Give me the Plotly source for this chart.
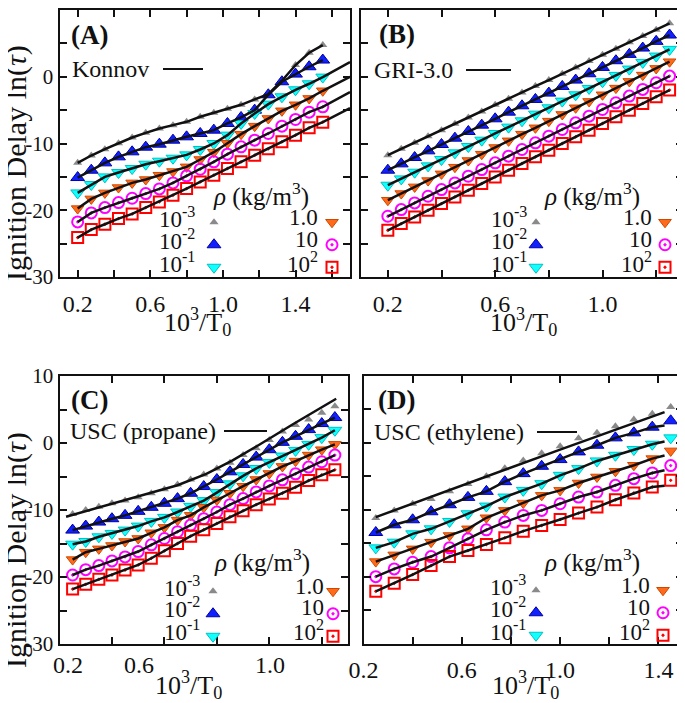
import plotly.graph_objects as go

# the page puts the figure 8 px in from the top-left corner, so the figure is
# drawn 8 px smaller and every reference position is shifted by that amount
OFF = 8
W, H = 685 - OFF, 703 - OFF
SERIF = "Liberation Serif"
INK = "#111111"

RHO_LABELS = ["10<sup>-3</sup>", "10<sup>-2</sup>", "10<sup>-1</sup>", "1.0", "10", "10<sup>2</sup>"]

# (A) Konnov
A_X = [0.2, 0.275, 0.35, 0.425, 0.5, 0.575, 0.65, 0.725, 0.8, 0.875,
       0.95, 1.025, 1.1, 1.175, 1.25, 1.325, 1.4, 1.475, 1.55]
A_PTS = [
    [-12.9, -11.8, -10.85, -9.95, -9.1, -8.4, -7.75, -7.25, -6.75, -6.0, -5.4, -4.8, -4.2, -3.4, -2.6, -0.6, 1.75, 3.6, 4.75],
    [-15.1, -14.0, -12.9, -12.0, -11.25, -10.55, -10.1, -9.5, -9.0, -8.5, -8.0, -7.0, -6.1, -5.0, -2.7, -0.75, 0.4, 1.5, 2.5],
    [-17.4, -16.15, -15.0, -14.35, -13.75, -13.1, -12.65, -12.2, -11.7, -10.9, -10.0, -8.75, -7.0, -5.5, -4.1, -3.0, -1.95, -1.05, -0.05],
    [-19.75, -18.3, -17.4, -16.6, -15.9, -15.4, -14.75, -14.2, -13.5, -12.4, -11.3, -9.95, -8.6, -7.4, -6.25, -5.1, -4.2, -3.25, -2.1],
    [-21.75, -20.4, -19.6, -18.85, -18.2, -17.5, -16.8, -15.9, -14.85, -13.85, -12.75, -11.6, -10.5, -9.5, -8.5, -7.4, -6.4, -5.3, -4.5],
    [-24.1, -22.9, -22.1, -21.25, -20.55, -19.6, -18.75, -17.75, -16.75, -15.75, -14.75, -13.75, -12.75, -11.75, -10.8, -9.75, -8.75, -7.65, -6.8],
]
A_TAIL_X = 1.7
A_TAIL = [None, None, 2.2, 0.0, -2.3, -4.7]

# (B) GRI-3.0
B_X = [0.2, 0.25, 0.3, 0.35, 0.4, 0.45, 0.5, 0.55, 0.6, 0.65, 0.7,
       0.75, 0.8, 0.85, 0.9, 0.95, 1.0, 1.05, 1.1, 1.15, 1.2, 1.25]
B_PTS = [
    [-11.75, -10.8, -9.9, -8.9, -8.0, -7.05, -6.1, -5.2, -4.2, -3.3, -2.35, -1.4, -0.5, 0.45, 1.4, 2.35, 3.3, 4.2, 5.15, 6.1, 7.05, 8.0],
    [-14.0, -13.05, -12.1, -11.1, -10.15, -9.2, -8.2, -7.25, -6.3, -5.3, -4.35, -3.4, -2.45, -1.45, -0.5, 0.45, 1.4, 2.4, 3.35, 4.3, 5.3, 6.25],
    [-16.25, -15.3, -14.3, -13.35, -12.4, -11.4, -10.45, -9.5, -8.5, -7.55, -6.6, -5.6, -4.65, -3.65, -2.7, -1.75, -0.75, 0.2, 1.15, 2.15, 3.1, 4.1],
    [-18.5, -17.5, -16.5, -15.55, -14.55, -13.55, -12.55, -11.6, -10.6, -9.6, -8.6, -7.65, -6.65, -5.65, -4.65, -3.7, -2.7, -1.7, -0.7, 0.25, 1.25, 2.25],
    [-20.9, -19.9, -18.9, -17.9, -16.9, -15.9, -14.9, -13.9, -12.9, -11.9, -10.9, -9.9, -8.9, -7.9, -6.9, -5.9, -4.9, -3.9, -2.9, -1.9, -0.9, 0.1],
    [-23.0, -22.0, -21.0, -20.0, -19.0, -18.0, -17.0, -16.0, -15.0, -14.0, -13.0, -12.0, -11.0, -10.0, -9.0, -8.0, -7.0, -6.0, -5.0, -4.0, -3.0, -2.0],
]

# (C) USC (propane)
C_X = [0.25, 0.3, 0.35, 0.4, 0.45, 0.5, 0.55, 0.6, 0.65, 0.7, 0.75,
       0.8, 0.85, 0.9, 0.95, 1.0, 1.05, 1.1, 1.15, 1.2, 1.25]
C_PTS = [
    [-10.6, -10.0, -9.5, -9.0, -8.6, -8.1, -7.5, -6.9, -6.2, -5.45, -4.7, -3.8, -2.95, -1.8, -0.8, 0.45, 1.7, 2.7, 3.5, 4.5, 5.5],
    [-13.0, -12.4, -11.8, -11.3, -10.8, -10.2, -9.6, -9.0, -8.3, -7.5, -6.5, -5.45, -4.3, -3.2, -2.1, -1.0, 0.1, 1.0, 2.0, 2.9, 3.8],
    [-15.1, -14.7, -14.0, -13.5, -13.0, -12.4, -11.7, -11.1, -10.3, -9.45, -8.6, -7.4, -6.1, -4.9, -3.8, -2.9, -1.95, -1.1, -0.2, 0.8, 1.9],
    [-17.4, -16.3, -15.8, -15.3, -14.7, -14.25, -13.4, -12.6, -11.5, -10.8, -9.6, -8.5, -7.5, -6.45, -5.45, -4.55, -3.5, -2.7, -1.8, -1.0, -0.2],
    [-19.7, -18.9, -18.3, -17.6, -17.0, -16.2, -15.2, -14.25, -13.25, -12.25, -11.3, -10.3, -9.2, -8.3, -7.3, -6.4, -5.5, -4.6, -3.6, -2.8, -1.8],
    [-21.8, -21.1, -20.35, -19.7, -18.95, -18.2, -17.2, -16.1, -15.0, -13.9, -12.95, -12.0, -11.0, -10.1, -9.2, -8.35, -7.5, -6.6, -5.6, -4.75, -4.0],
]
C_GREY_FIT_X = [0.225, 0.45, 0.65, 0.76, 0.86, 0.96, 1.09, 1.255]
C_GREY_FIT = [-11.0, -8.5, -6.3, -4.6, -2.6, -0.3, 2.8, 6.6]

# (D) USC (ethylene)
D_X = [0.25, 0.325, 0.4, 0.475, 0.55, 0.625, 0.7, 0.775, 0.85,
       0.925, 1.0, 1.075, 1.15, 1.225, 1.3, 1.375, 1.45]
D_PTS = [
    [-11.25, -10.1, -9.1, -8.4, -7.25, -6.15, -5.0, -3.8, -2.65, -1.55, -0.5, 0.7, 1.5, 2.5, 3.5, 4.35, 5.35],
    [-13.4, -12.25, -11.5, -10.3, -9.25, -8.15, -7.25, -5.8, -4.6, -3.5, -2.5, -1.35, -0.35, 0.75, 1.5, 2.35, 3.3],
    [-15.7, -14.85, -13.6, -12.85, -11.75, -10.6, -9.45, -8.1, -7.1, -6.1, -4.85, -3.85, -2.7, -1.85, -1.0, -0.2, 0.75],
    [-17.75, -16.75, -15.85, -14.85, -13.85, -12.85, -11.2, -10.1, -9.0, -7.85, -7.1, -6.0, -5.1, -4.25, -3.35, -2.35, -1.2],
    [-20.0, -18.85, -17.85, -17.0, -15.7, -14.35, -13.0, -11.85, -10.85, -10.1, -9.1, -8.1, -7.35, -6.35, -5.35, -4.5, -3.4],
    [-22.2, -21.0, -19.7, -18.35, -17.0, -16.1, -15.2, -14.2, -13.2, -12.35, -11.45, -10.5, -9.6, -8.5, -7.5, -6.6, -5.6],
]
D_END_X = 1.425
D_END = [None, 2.6, 0.2, -1.9, -4.1, -6.4]
D_GREY_FIT_X = [0.25, 0.7, 1.0, 1.425]
D_GREY_FIT = [-11.1, -5.0, -1.0, 4.6]

Y_LABELED = [10, 0, -10, -20, -30]
Y_MINOR = [5, -5, -15, -25]

# marker look for each density
STYLES = [
    dict(symbol="triangle-up", size=8, color="#8a8a8a", line=dict(width=0)),
    dict(symbol="triangle-up", size=12, color="#1020ff", line=dict(width=1, color="#0000a0")),
    dict(symbol="triangle-down", size=12, color="#10ffff", line=dict(width=1, color="#00c0c0")),
    dict(symbol="triangle-down", size=11, color="#ff6a1a", line=dict(width=1, color="#d04800")),
    dict(symbol="circle-open-dot", size=11, color="#ff00ff", line=dict(width=2, color="#ff00ff")),
    dict(symbol="square-open-dot", size=11, color="#ff0000", line=dict(width=2, color="#ff0000")),
]


def fits_a():
    out = []
    for pts, tail in zip(A_PTS, A_TAIL):
        if tail is None:
            out.append((A_X, pts))
        else:
            out.append((A_X + [A_TAIL_X], pts + [tail]))
    return out


def fits_d():
    out = [(D_GREY_FIT_X, D_GREY_FIT)]
    for pts, end in zip(D_PTS[1:], D_END[1:]):
        out.append((D_X[:-1] + [D_END_X], pts[:-1] + [end]))
    return out


# pixel boxes (window pixels) of the four frames: (left, right, top, bottom)
# xlab=None lets the axis write its own tick labels, otherwise they are placed by hand
PANELS = [
    dict(tag="(A)", model="Konnov", x=A_X, pts=A_PTS, fits=fits_a(),
         box=(59.5, 350, 10, 277), xr=[0.1, 1.7], xmaj=[0.2, 0.6, 1.0, 1.4], xmin=[0.4, 0.8, 1.2, 1.6],
         xlab=None, ylab=True, tagpos=(69, 35), modelpos=(70, 69), sample=(163, 203, 69),
         rho=(211, 194), cols=((197, 214), (320, 332)), rows=(217, 239.5, 262)),
    dict(tag="(B)", model="GRI-3.0", x=B_X, pts=B_PTS, fits=[(B_X, p) for p in B_PTS],
         box=(361, 683, 10, 277), xr=[0.1, 1.3], xmaj=[0.2, 0.6, 1.0], xmin=[0.4, 0.8, 1.2],
         xlab=None, ylab=False, tagpos=(377, 34), modelpos=(372, 70), sample=(466, 511, 70),
         rho=(542, 194), cols=((529, 536), (654, 665)), rows=(217, 239.5, 262)),
    dict(tag="(C)", model="USC (propane)", x=C_X, pts=C_PTS,
         fits=[(C_GREY_FIT_X, C_GREY_FIT)] + [(C_X, p) for p in C_PTS[1:]],
         box=(59.5, 348, 376, 644), xr=[0.2, 1.3], xmaj=[0.2, 0.6, 1.0], xmin=[0.4, 0.8, 1.2],
         xlab=[(68, 665), (139, 665), (270, 665)], ylab=True, tagpos=(69, 400), modelpos=(68, 431),
         sample=(224, 267, 431), rho=(212, 560), cols=((202, 213), (326, 333)), rows=(586, 607.5, 630)),
    dict(tag="(D)", model="USC (ethylene)", x=D_X, pts=D_PTS, fits=fits_d(),
         box=(363.5, 683, 376, 643.5), xr=[0.2, 1.5], xmaj=[0.2, 0.6, 1.0, 1.4], xmin=[0.4, 0.8, 1.2],
         xlab=None, ylab=False, tagpos=(376, 400), modelpos=(372, 432), sample=(537, 577, 432),
         rho=(542, 560), cols=((528, 536), (652, 663)), rows=(585, 607, 630)),
]

XTITLES = [(197, 322), (523, 322), (188, 685), (525, 685)]
YTITLES = [(16, 163), (16, 550)]


def px(x):
    return (x - OFF) / W


def py(y):
    return 1 - (y - OFF) / H


def text(x, y, s, size, anchor="left", bold=False, **kw):
    return dict(x=px(x), y=py(y), xref="paper", yref="paper", xanchor=anchor,
                yanchor="middle", showarrow=False, text=f"<b>{s}</b>" if bold else s,
                font=dict(size=size, family=SERIF, color=INK), **kw)


fig = go.Figure()
annotations = []
shapes = []
legends = {}

tick_style = dict(ticks="inside", ticklen=7, tickwidth=1.5, tickcolor=INK)

for i, p in enumerate(PANELS):
    sfx = "" if i == 0 else str(i + 1)
    xa, ya = "x" + sfx, "y" + sfx
    leg_ids = ["legend" + ("" if i == 0 else str(2 * i + 1)), "legend" + str(2 * i + 2)]

    for k, (pts, st) in enumerate(zip(p["pts"], STYLES)):
        fig.add_trace(go.Scatter(
            x=p["x"], y=pts, mode="markers", marker=st, xaxis=xa, yaxis=ya,
            name=" ", legend=leg_ids[k // 3], showlegend=True, hoverinfo="skip"))
    for fx, fy in p["fits"]:
        fig.add_trace(go.Scatter(
            x=fx, y=fy, mode="lines", line=dict(color=INK, width=2.5),
            xaxis=xa, yaxis=ya, showlegend=False, hoverinfo="skip"))

    l, r, t, b = p["box"]
    xt = [f"{v:.1f}" for v in p["xmaj"]]
    fig.layout["xaxis" + sfx] = dict(
        domain=[px(l), px(r)], range=p["xr"], anchor=ya, ticklabelstandoff=4,
        tickmode="array", tickvals=p["xmaj"], ticktext=xt, showticklabels=p["xlab"] is None,
        minor=dict(tickmode="array", tickvals=p["xmin"], **tick_style))
    if p["xlab"] is not None:
        for (lx, ly), s in zip(p["xlab"], xt):
            annotations.append(text(lx, ly, s, 24, anchor="center"))
    fig.layout["yaxis" + sfx] = dict(
        domain=[py(b), py(t)], range=[-30, 10], anchor=xa,
        tickmode="array", tickvals=Y_LABELED, ticktext=[str(v) for v in Y_LABELED],
        showticklabels=p["ylab"], tickfont=dict(size=21, family=SERIF, color=INK),
        minor=dict(tickmode="array", tickvals=Y_MINOR, **tick_style))

    for col, (txt_r, key_x) in enumerate(p["cols"]):
        legends[leg_ids[col]] = dict(
            x=px(key_x - 20), y=py(p["rows"][0] - 11), xanchor="left", yanchor="top",
            bgcolor="rgba(0,0,0,0)", borderwidth=0, font=dict(size=15, family=SERIF),
            itemwidth=30, tracegroupgap=0, orientation="v")
        for k in range(3):
            annotations.append(text(txt_r, p["rows"][k], RHO_LABELS[col * 3 + k], 23, anchor="right"))

    annotations.append(text(*p["tagpos"], p["tag"], 27, bold=True))
    annotations.append(text(*p["modelpos"], p["model"], 24))
    annotations.append(text(*p["rho"], "<i>ρ</i> (kg/m<sup>3</sup>)", 25))
    x0, x1, ys = p["sample"]
    shapes.append(dict(type="line", xref="paper", yref="paper",
                       x0=px(x0), x1=px(x1), y0=py(ys), y1=py(ys),
                       line=dict(color=INK, width=2)))

for cx, cy in XTITLES:
    annotations.append(text(cx, cy, "10<sup>3</sup>/T<sub>0</sub>", 26, anchor="center"))
for cx, cy in YTITLES:
    annotations.append(text(cx, cy, "Ignition Delay ln(<i>τ</i>)", 30, anchor="center", textangle=-90))

axis_style = dict(showline=True, linecolor=INK, linewidth=2, mirror="allticks",
                  showgrid=False, zeroline=False, **tick_style)
fig.update_xaxes(tickfont=dict(size=24, family=SERIF, color=INK), **axis_style)
fig.update_yaxes(**axis_style)

fig.update_layout(
    width=W, height=H, margin=dict(l=0, r=0, t=0, b=0, autoexpand=False),
    paper_bgcolor="white", plot_bgcolor="white",
    annotations=annotations, shapes=shapes, **legends)

fig.write_html("out.html")
